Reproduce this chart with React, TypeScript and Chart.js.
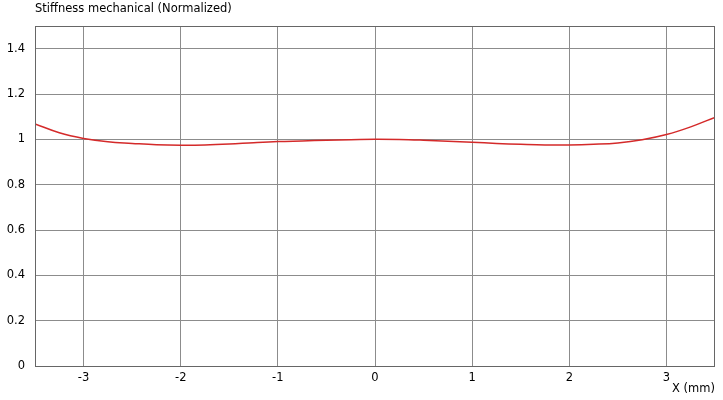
import React, { useEffect, useRef } from 'react'
import { Chart, registerables } from 'chart.js'

Chart.register(...registerables)

// positions along the probe, mm
const positions = [
    -3.5, -3.25, -3, -2.75, -2.5, -2.25, -2, -1.75, -1.5, -1.25, -1, -0.75, -0.5, -0.25,
    0, 0.25, 0.5, 0.75, 1, 1.25, 1.5, 1.75, 2, 2.25, 2.5, 2.75, 3, 3.25, 3.5,
]
// normalized mechanical stiffness
const stiffness = [
    1.068, 1.029, 1.004, 0.989, 0.982, 0.976, 0.974, 0.975, 0.979, 0.985, 0.99, 0.993, 0.996, 0.998,
    1.0, 0.999, 0.996, 0.992, 0.987, 0.982, 0.978, 0.975, 0.975, 0.978, 0.984, 0.998, 1.021, 1.055, 1.097,
]

const xTicks = [-3, -2, -1, 0, 1, 2, 3]
const yTicks = [0, 0.2, 0.4, 0.6, 0.8, 1, 1.2, 1.4]

const chartTitle = 'Stiffness mechanical (Normalized)'
const xAxisTitle = 'X (mm)'

const FONT = 'DejaVu Sans'
const FONT_SIZE = 11.5

// draws the frame and the two free-standing labels
const framePlugin = {
    id: 'frame',
    afterDatasetsDraw(chart: Chart) {
        const { ctx, chartArea } = chart
        ctx.save()
        ctx.strokeStyle = '#666666'
        ctx.lineWidth = 1
        ctx.strokeRect(chartArea.left + 0.5, chartArea.top + 0.5, chartArea.width - 1, chartArea.height)
        ctx.fillStyle = '#000000'
        ctx.font = `${FONT_SIZE}px "${FONT}"`
        ctx.textBaseline = 'middle'
        ctx.textAlign = 'left'
        ctx.fillText(chartTitle, chartArea.left, 9)
        ctx.textAlign = 'right'
        ctx.fillText(xAxisTitle, chartArea.right, 389)
        ctx.restore()
    },
}

export default function App() {
    const canvasRef = useRef<HTMLCanvasElement>(null)

    useEffect(() => {
        if (!canvasRef.current) return

        const chart = new Chart(canvasRef.current, {
            type: 'line',
            data: {
                datasets: [{
                    label: 'Stiffness',
                    data: positions.map((x, i) => ({ x, y: stiffness[i] })),
                    borderColor: '#d42a2a',
                    borderWidth: 1.5,
                    pointRadius: 0,
                    tension: 0.4,
                    fill: false,
                }]
            },
            options: {
                animation: false,
                responsive: false,
                layout: { padding: { top: 26, right: 8, left: 0, bottom: 0 } },
                plugins: {
                    legend: { display: false },
                    tooltip: { enabled: false },
                },
                scales: {
                    x: {
                        type: 'linear',
                        min: -3.5,
                        max: 3.5,
                        afterBuildTicks: (scale) => { scale.ticks = xTicks.map((value) => ({ value })) },
                        afterFit: (scale) => { scale.height = 34 },
                        border: { display: false },
                        grid: { color: '#8c8c8c', drawTicks: false, tickLength: 0 },
                        ticks: {
                            padding: 5,
                            color: '#000000',
                            font: { family: FONT, size: FONT_SIZE },
                            maxRotation: 0,
                            autoSkip: false,
                            callback: (value) => `${Number(value)}`,
                        },
                    },
                    y: {
                        min: 0,
                        max: 1.5,
                        afterBuildTicks: (scale) => { scale.ticks = yTicks.map((value) => ({ value })) },
                        afterFit: (scale) => { scale.width = 35 },
                        border: { display: false },
                        grid: { color: '#8c8c8c', drawTicks: false, tickLength: 0 },
                        ticks: {
                            padding: 10,
                            color: '#000000',
                            font: { family: FONT, size: FONT_SIZE },
                            autoSkip: false,
                            callback: (value) => `${Number(Number(value).toFixed(1))}`,
                        },
                    },
                },
            },
            plugins: [framePlugin],
        })

        return () => {
            chart.destroy()
        }
    }, [])

    return (
        <div style={{ position: 'fixed', left: 0, top: 0, width: 723, height: 400, background: '#ffffff' }}>
            <canvas ref={canvasRef} width={723} height={400} />
        </div>
    )
}
